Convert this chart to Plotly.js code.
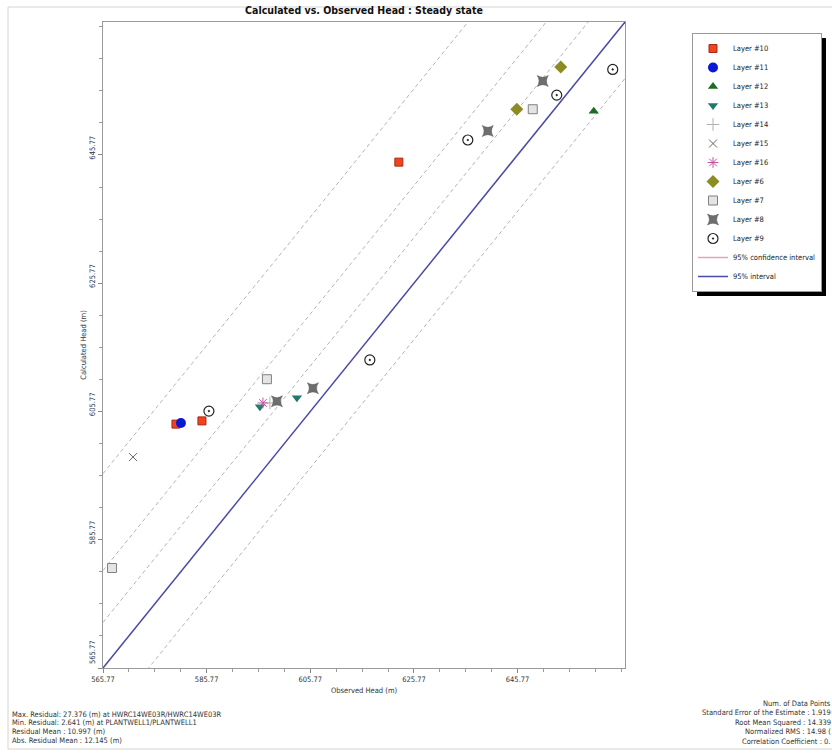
<!DOCTYPE html>
<html><head><meta charset="utf-8">
<script src="https://cdn.plot.ly/plotly-3.0.1.min.js"></script>
<style>body{margin:0;background:#fff}#chart{width:832px;height:755px}</style>
</head><body><div id="chart"></div><script>
const FONT = '"DejaVu Sans Condensed", "Liberation Sans", sans-serif';

// ---- data ----
const axisRange = [565.77, 666.5];
const tickVals = [565.77, 585.77, 605.77, 625.77, 645.77];
const xTickText = ['565.77', '585.77', '605.77', '625.77', '645.77'];
const yTickText = ['\u00a0\u00a0\u00a0\u00a0\u00a0\u00a0\u00a0\u00a0565.77', '585.77', '605.77', '625.77', '645.77'];

const l10x = [579.85, 584.86, 622.86], l10y = [603.8, 604.3, 644.65];
const l11x = [580.81], l11y = [603.96];
const l12x = [660.47], l12y = [652.6];
const l13x = [596.05, 603.19], l13y = [606.5, 607.9];
const l14x = [597.98], l14y = [607.1];
const l15x = [571.56], l15y = [598.66];
const l16x = [596.63], l16y = [607.1];
const l6x = [645.62, 654.10], l6y = [652.9, 659.5];
const l7x = [567.51, 597.40, 648.70], l7y = [581.36, 610.8, 652.9];
const l8x = [599.33, 606.27, 640.02, 650.63], l8y = [607.35, 609.4, 649.5, 657.3];
const l9x = [586.21, 617.26, 636.17, 653.33, 664.13], l9y = [605.83, 613.8, 648.1, 655.1, 659.1];

const oneToOne = [565.77, 666.5];
const intervalOffsets = [30.3, 15.2, 7.1, -8.8];

const statsLeft = [
  'Max. Residual: 27.376 (m) at HWRC14WE03R/HWRC14WE03R',
  'Min. Residual: 2.641 (m) at PLANTWELL1/PLANTWELL1',
  'Residual Mean : 10.997 (m)',
  'Abs. Residual Mean : 12.145 (m)'
];
const statsRight = [
  'Num. of Data Points',
  'Standard Error of the Estimate : 1.919',
  'Root Mean Squared : 14.339',
  'Normalized RMS : 14.98 (',
  'Correlation Coefficient : 0.'
];

// ---- geometry helpers (layout only) ----
const W = 832, H = 755, ML = 103, MR = 207, MT = 22, MB = 87;
const PW = W - ML - MR, PH = H - MT - MB;
const px = x => (x - ML) / PW;
const py = y => (H - MB - y) / PH;

function pts(name, x, y, marker) {
  return {type: 'scatter', mode: 'markers', name, x, y, marker, cliponaxis: false};
}

const traces = [];
intervalOffsets.forEach(o => {
  traces.push({type: 'scatter', mode: 'lines', x: oneToOne, y: oneToOne.map(v => v + o),
    line: {color: '#b4b4b4', width: 1, dash: '4px,3px'}, showlegend: false, hoverinfo: 'skip'});
});
traces.push({type: 'scatter', mode: 'lines', x: oneToOne, y: oneToOne, name: '95% interval',
  line: {color: '#4a4aa8', width: 1.5}, showlegend: false});

traces.push(pts('Layer #10', l10x, l10y, {symbol: 'square', size: 8, color: '#f2431c', line: {color: '#a8281a', width: 1}}));
traces.push(pts('Layer #11', l11x, l11y, {symbol: 'circle', size: 10, color: '#0b18d6', line: {width: 0}}));
traces.push(pts('Layer #12', l12x, l12y, {symbol: 'triangle-up', size: 9, color: '#1f6b26', line: {width: 0}}));
traces.push(pts('Layer #13', l13x, l13y, {symbol: 'triangle-down', size: 9, color: '#1f7a6c', line: {width: 0}}));
traces.push(pts('Layer #14', l14x, l14y, {symbol: 'cross-thin-open', size: 9, color: '#b0b0b0', line: {color: '#b0b0b0', width: 1}}));
traces.push(pts('Layer #15', l15x, l15y, {symbol: 'x-thin-open', size: 8, color: '#666', line: {color: '#666', width: 1}}));
traces.push(pts('Layer #16', l16x, l16y, {symbol: 'asterisk-open', size: 9, color: '#c456a6', line: {color: '#c456a6', width: 1}}));
traces.push(pts('Layer #6', l6x, l6y, {symbol: 'diamond', size: 10, color: '#8c8c22', line: {width: 0}}));
traces.push(pts('Layer #7', l7x, l7y, {symbol: 'square', size: 9, color: '#e4e4e4', line: {color: '#808080', width: 1}}));
traces.push(pts('Layer #8', l8x, l8y, {symbol: 'star-square', size: 10, color: '#6e6e6e', line: {color: '#555', width: 0.5}}));
traces.push(pts('Layer #9', l9x, l9y, {symbol: 'circle-open-dot', size: 10, color: '#222', line: {color: '#444', width: 1.2}}));
traces.push({type: 'scatter', mode: 'lines', x: [null], y: [null], name: '95% confidence interval',
  line: {color: '#e7a3b3', width: 1.5}});
traces.push({type: 'scatter', mode: 'lines', x: [null], y: [null], name: '95% interval',
  line: {color: '#4a4aa8', width: 1.5}});

const axisCommon = {
  range: axisRange, tickvals: tickVals,
  ticks: 'outside', ticklen: 4, tickcolor: '#888', tickwidth: 1,
  showline: true, linecolor: '#9a9a9a', linewidth: 1, mirror: true,
  showgrid: false, zeroline: false, automargin: false,
  tickfont: {family: FONT, size: 7.5, color: '#333'},
  minor: {tick0: 565.77, dtick: 5, ticks: 'outside', ticklen: 3, tickcolor: '#999', showgrid: false}
};

const annotations = [];
statsLeft.forEach((t, i) => annotations.push({text: t, xref: 'paper', yref: 'paper',
  x: px(11), y: py(714 + i * 8.8), xanchor: 'left', yanchor: 'middle', showarrow: false, borderpad: 0,
  font: {family: FONT, size: 7.5, color: '#333'}}));
statsRight.forEach((t, i) => annotations.push({text: t, xref: 'paper', yref: 'paper',
  x: px(832), y: py(703 + i * 9.6), xanchor: 'right', yanchor: 'middle', showarrow: false, borderpad: 0,
  font: {family: FONT, size: 7.5, color: '#333'}}));

const layout = {
  width: W, height: H,
  margin: {l: ML, r: MR, t: MT, b: MB, pad: 0, autoexpand: false},
  paper_bgcolor: '#fff', plot_bgcolor: '#fff',
  font: {family: FONT, color: '#333'},
  title: {text: '<b>Calculated vs. Observed Head : Steady state</b>', font: {family: FONT, size: 10.5, color: '#111'},
    x: 0.5, xref: 'paper', xanchor: 'center', y: 1 - 10 / H, yref: 'container', yanchor: 'middle'},
  xaxis: Object.assign({}, axisCommon, {ticktext: xTickText,
    title: {text: 'Observed Head (m)', font: {family: FONT, size: 7.5, color: '#333'}, standoff: 4}}),
  yaxis: Object.assign({}, axisCommon, {ticktext: yTickText, tickangle: -90, ticklabelshift: -6,
    title: {text: 'Calculated Head (m)', font: {family: FONT, size: 7.5, color: '#333'}, standoff: 0}}),
  showlegend: true,
  legend: {xref: 'container', yref: 'container', x: 692 / W, y: 1 - 33 / H, xanchor: 'left', yanchor: 'top',
    bgcolor: '#fff', bordercolor: '#999', borderwidth: 1,
    font: {family: FONT, size: 7.5, color: '#222'}, tracegroupgap: 0, itemclick: false},
  annotations,
  shapes: [
    {type: 'rect', xref: 'paper', yref: 'paper', x0: px(8), x1: px(845), y0: py(749), y1: py(7),
      line: {color: '#d4d4d4', width: 1}, layer: 'below'}
  ]
};

const gd = document.getElementById('chart');
Plotly.newPlot(gd, traces, layout, {staticPlot: true}).then(() => {
  const bg = gd.querySelector('.legend .bg');
  if (bg) {
    const sh = bg.cloneNode(true);
    sh.setAttribute('class', 'legend-shadow');
    sh.style.fill = '#000';
    sh.style.stroke = 'none';
    sh.setAttribute('transform', 'translate(4,4)');
    bg.parentNode.insertBefore(sh, bg);
  }
});
</script></body></html>
